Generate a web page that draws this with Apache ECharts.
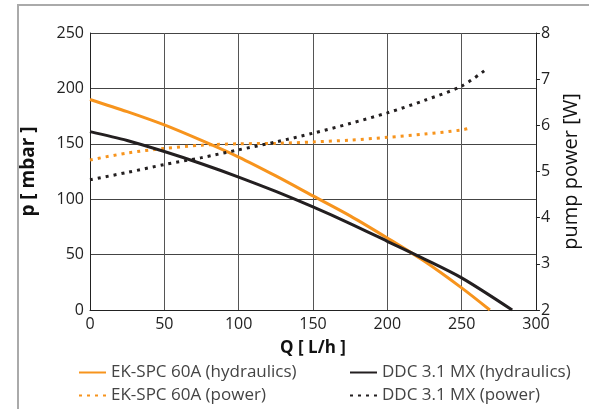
<!DOCTYPE html>
<html>
<head>
<meta charset="utf-8">
<script src="https://cdn.jsdelivr.net/npm/echarts@6/dist/echarts.min.js"></script>
<style>
  html, body { margin: 0; padding: 0; background: #fff; }
  #chart { width: 589px; height: 409px; }
</style>
</head>
<body>
<div id="chart"></div>
<script>
// flow Q [L/h] for each curve
const ekHydQ = [0, 25, 50, 75, 100, 125, 150, 175, 200, 225, 250, 269]
const ekHydP = [190, 179, 167, 153, 138, 121, 103, 85, 65, 44, 20, 0]
const ddcHydQ = [0, 25, 50, 75, 100, 125, 150, 175, 200, 225, 250, 284]
const ddcHydP = [161, 153, 143, 132, 120, 107, 93, 78, 62, 46, 29, 0]
// power curves (right axis, W)
const ekPowQ = [0, 25, 50, 75, 100, 125, 150, 175, 200, 225, 250, 257]
const ekPowW = [5.25, 5.4, 5.5, 5.57, 5.6, 5.61, 5.64, 5.68, 5.74, 5.81, 5.9, 5.95]
const ddcPowQ = [0, 25, 50, 75, 100, 125, 150, 175, 200, 225, 250, 266]
const ddcPowW = [4.82, 4.98, 5.15, 5.3, 5.47, 5.64, 5.83, 6.04, 6.27, 6.54, 6.85, 7.2]

const names = ['EK-SPC 60A (hydraulics)', 'EK-SPC 60A (power)', 'DDC 3.1 MX (hydraulics)', 'DDC 3.1 MX (power)']

const orange = '#f7941d'
const black = '#231f20'
const font = 'Open Sans'

const pairs = (xs, ys) => xs.map((x, i) => [x, ys[i]])

const legendBase = {
  orient: 'vertical', top: 359, height: 50, itemGap: 6,
  itemWidth: 27, itemHeight: 14,
  itemStyle: { color: 'transparent', borderWidth: 0 },
  textStyle: { color: '#444', fontSize: 17, fontFamily: font }
}

const chart = echarts.init(document.getElementById('chart'))
chart.setOption({
  animation: false,
  textStyle: { fontFamily: font },
  grid: { left: 90, right: 51, top: 33, bottom: 99 },
  graphic: [{
    type: 'polyline',
    shape: { points: [[18, 409], [18, 5], [589, 5]] },
    style: { stroke: '#aaa', lineWidth: 2, fill: null }
  }],
  legend: [
    Object.assign({ left: 73, data: [names[0], names[1]] }, legendBase),
    Object.assign({ left: 344, data: [names[2], names[3]] }, legendBase)
  ],
  xAxis: {
    type: 'value', min: 0, max: 300, interval: 50,
    name: 'Q [ L/h ]', nameLocation: 'middle', nameGap: 30,
    nameTextStyle: { fontSize: 17, fontWeight: 'bold', color: '#111' },
    axisLine: { lineStyle: { color: '#222', width: 1 } },
    axisTick: { show: false },
    axisLabel: { fontSize: 16, color: '#222', margin: 6 },
    splitLine: { show: true, lineStyle: { color: '#555', width: 1 } }
  },
  yAxis: [{
    type: 'value', min: 0, max: 250, interval: 50,
    name: 'p [ mbar ]', nameLocation: 'middle', nameGap: 52, nameRotate: 90,
    nameTextStyle: { fontSize: 19, fontWeight: 'bold', color: '#111' },
    axisLine: { show: true, lineStyle: { color: '#222', width: 1 } },
    axisTick: { show: false },
    axisLabel: { fontSize: 16, color: '#222', margin: 6 },
    splitLine: { show: true, lineStyle: { color: '#444', width: 1 } }
  }, {
    type: 'value', min: 2, max: 8, interval: 1, position: 'right',
    name: 'pump power [W]', nameLocation: 'middle', nameGap: 24, nameRotate: 90,
    nameTextStyle: { fontSize: 20, color: '#111' },
    axisLine: { show: true, lineStyle: { color: '#222', width: 1 } },
    axisTick: { show: true, length: 4, lineStyle: { color: '#222' } },
    axisLabel: { fontSize: 16, color: '#222', margin: 5 },
    splitLine: { show: false }
  }],
  series: [{
    name: names[0], type: 'line', smooth: 0.3, symbol: 'none',
    data: pairs(ekHydQ, ekHydP),
    itemStyle: { color: orange },
    lineStyle: { color: orange, width: 3 }
  }, {
    name: names[1], type: 'line', smooth: 0.3, symbol: 'none', yAxisIndex: 1,
    data: pairs(ekPowQ, ekPowW),
    itemStyle: { color: orange },
    lineStyle: { color: orange, width: 3, type: [3, 5] }
  }, {
    name: names[2], type: 'line', smooth: 0.3, symbol: 'none',
    data: pairs(ddcHydQ, ddcHydP),
    itemStyle: { color: black },
    lineStyle: { color: black, width: 3 }
  }, {
    name: names[3], type: 'line', smooth: 0.3, symbol: 'none', yAxisIndex: 1,
    data: pairs(ddcPowQ, ddcPowW),
    itemStyle: { color: black },
    lineStyle: { color: black, width: 3, type: [3, 5] }
  }]
})
</script>
</body>
</html>
